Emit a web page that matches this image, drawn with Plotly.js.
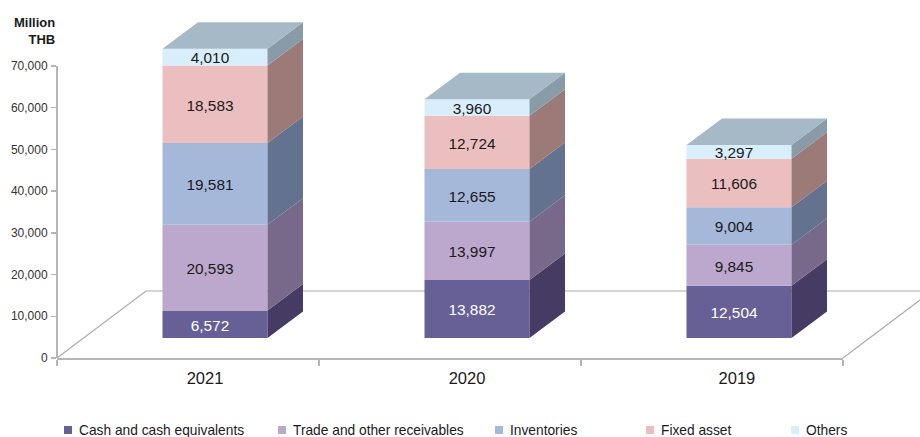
<!DOCTYPE html>
<html>
<head>
<meta charset="utf-8">
<script src="https://cdn.plot.ly/plotly-3.0.1.min.js"></script>
<style>html,body{margin:0;padding:0;background:#fff}#chart{width:920px;height:437px}</style>
</head>
<body>
<div id="chart"></div>
<script>
const years = ['2021', '2020', '2019'];
const cash = [6572, 13882, 12504];
const receivables = [20593, 13997, 9845];
const inventories = [19581, 12655, 9004];
const fixedAsset = [18583, 12724, 11606];
const others = [4010, 3960, 3297];

const seriesNames = ['Cash and cash equivalents', 'Trade and other receivables', 'Inventories', 'Fixed asset', 'Others'];
const seriesValues = [cash, receivables, inventories, fixedAsset, others];
const frontColors = ['#666096', '#bca8cd', '#a5b8da', '#ebbfc0', '#d9eefb'];
const sideColors = ['#463c63', '#78698a', '#63728f', '#9c7a77', '#8a9ba8'];
const topColor = '#a6b9c7';
const labelColors = ['#ffffff', '#1a1a1a', '#1a1a1a', '#1a1a1a', '#1a1a1a'];
const legendLeft = [39, 253, 470, 621, 766];

const W = 920, H = 437, L = 57, R = 843, T = 8, B = 358;
const pxX = (R - L) / 3, pxY = 292 / 70000;
const yTop = (B - T) / pxY;
const barW = 105 / pxX, barShift = 0.103, lift = 20 / pxY;
const depthX = 35.5 / pxX, depthY = 26.5 / pxY;
const labelShift = -5 / pxX, labelDrop = 2.5 / pxY;
const tickShift = [0.065, 0.065, 0.095];
const axisGrey = '#b5b5b5';
const font = 'Liberation Sans, Arial, sans-serif';

const traces = [], positions = years.map((_, i) => i + barShift);
let bases = years.map(() => lift);

seriesValues.forEach((vals, s) => {
  const base = bases.slice();
  const tops = vals.map((v, i) => base[i] + v);
  traces.push({
    type: 'bar', x: positions, y: vals, base: base, width: barW, name: seriesNames[s],
    marker: {color: frontColors[s], line: {width: 0}}, cliponaxis: false, hoverinfo: 'skip',
    legend: s === 0 ? 'legend' : 'legend' + (s + 1), showlegend: true
  });
  const sx = [], sy = [];
  positions.forEach((p, i) => {
    const r = p + barW / 2;
    sx.push(r, r + depthX, r + depthX, r, r, null);
    sy.push(base[i], base[i] + depthY, tops[i] + depthY, tops[i], base[i], null);
  });
  traces.push({
    type: 'scatter', mode: 'lines', x: sx, y: sy, fill: 'toself', fillcolor: sideColors[s],
    line: {width: 0}, cliponaxis: false, hoverinfo: 'skip', showlegend: false
  });
  bases = tops;
});

const tx = [], ty = [];
positions.forEach((p, i) => {
  const l = p - barW / 2, r = p + barW / 2, b = bases[i];
  tx.push(l, r, r + depthX, l + depthX, l, null);
  ty.push(b, b, b + depthY, b + depthY, b, null);
});
traces.push({
  type: 'scatter', mode: 'lines', x: tx, y: ty, fill: 'toself', fillcolor: topColor,
  line: {width: 0}, cliponaxis: false, hoverinfo: 'skip', showlegend: false
});

let run = years.map(() => lift);
seriesValues.forEach((vals, s) => {
  traces.push({
    type: 'scatter', mode: 'text', x: positions.map(p => p + labelShift),
    y: vals.map((v, i) => run[i] + v / 2 - labelDrop),
    text: vals.map(v => v.toLocaleString('en-US')), textposition: 'middle center',
    textfont: {family: font, size: 15.4, color: labelColors[s]},
    cliponaxis: false, hoverinfo: 'skip', showlegend: false
  });
  run = run.map((r, i) => r + vals[i]);
});

const floorX = 89 / (R - L), floorY = 67 / (B - T);
const layout = {
  width: W, height: H, autosize: false,
  margin: {l: L, r: W - R, t: T, b: H - B, pad: 0},
  paper_bgcolor: '#fff', plot_bgcolor: 'rgba(0,0,0,0)',
  barmode: 'overlay', hovermode: false,
  font: {family: font, color: '#333'},
  xaxis: {
    type: 'linear', range: [-0.5, 2.5], showgrid: false, zeroline: false,
    showline: true, linecolor: axisGrey, linewidth: 2,
    tickmode: 'array', tickvals: years.map((_, i) => i + tickShift[i]), ticktext: years,
    ticks: '', tickfont: {family: font, size: 16.5, color: '#1a1a1a'}, ticklabelstandoff: 4,
    minor: {tickmode: 'array', tickvals: [-0.5, 0.5, 1.5, 2.5], ticks: 'outside', ticklen: 6, tickwidth: 1.5, tickcolor: axisGrey, showgrid: false}
  },
  yaxis: {
    range: [0, yTop], showgrid: false, zeroline: false, showline: false,
    tickmode: 'array', tickvals: [0, 10000, 20000, 30000, 40000, 50000, 60000, 70000],
    ticktext: ['0', '10,000', '20,000', '30,000', '40,000', '50,000', '60,000', '70,000'],
    ticks: 'outside', ticklen: 5, tickwidth: 1.5, tickcolor: axisGrey, ticklabelstandoff: 1,
    tickfont: {family: font, size: 12, color: '#333'}
  },
  shapes: [{
    type: 'path', xref: 'paper', yref: 'paper', layer: 'below',
    path: `M0,0 L${floorX},${floorY} L${1 + floorX},${floorY} L1,0`,
    line: {color: '#ababab', width: 1.2}
  }, {
    type: 'line', xref: 'paper', yref: 'paper', layer: 'above',
    x0: 0, x1: 0, y0: 0, y1: 292 / (B - T),
    line: {color: axisGrey, width: 2}
  }],
  annotations: [{
    xref: 'paper', yref: 'paper', x: 0, y: (B - 48.5) / (B - T), xanchor: 'right', yanchor: 'bottom', align: 'right',
    text: '<b>Million<br>THB</b>', showarrow: false, font: {family: font, size: 13, color: '#1a1a1a'}
  }]
};
seriesNames.forEach((_, s) => {
  layout[s === 0 ? 'legend' : 'legend' + (s + 1)] = {
    xref: 'container', yref: 'container', x: legendLeft[s] / W, y: 1 - 430 / H,
    xanchor: 'left', yanchor: 'middle', orientation: 'h', bgcolor: 'rgba(0,0,0,0)',
    borderwidth: 0, font: {family: font, size: 13.75, color: '#1a1a1a'}
  };
});

Plotly.newPlot('chart', traces, layout, {displayModeBar: false, staticPlot: true}).then(() => {
  document.querySelectorAll('#chart .legendpoints path').forEach(p => {
    p.setAttribute('d', 'M4,4H-4V-4H4Z');
    p.setAttribute('transform', 'translate(29,0)');
  });
});
</script>
</body>
</html>
